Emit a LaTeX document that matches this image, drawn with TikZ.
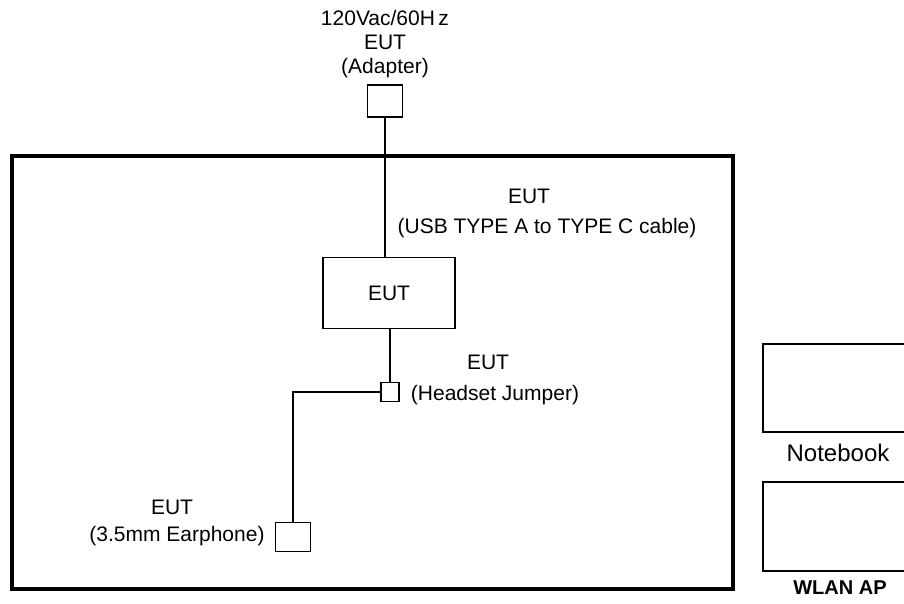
\documentclass[tikz,border=0pt]{standalone}
\usepackage{fontspec}
\setmainfont{Liberation Sans}
\begin{document}
\begin{tikzpicture}[x=1pt, y=-1pt, font=\fontsize{21}{24}\selectfont,
    unit/.style={draw, line width=1.5pt, inner sep=0pt},
    wire/.style={line width=1.4pt}]
    \useasboundingbox (0, 0) rectangle (904, 603);
    \clip (0, 0) rectangle (904, 603);
    % test room
    \draw[line width=3.6pt] (12, 156) rectangle (733, 589);
    % units
    \node[unit, minimum width=35, minimum height=32] (adapter) at (385, 101) {};
    \node[unit, minimum width=132, minimum height=71] (eut) at (389, 293) {EUT};
    \node[unit, minimum width=18, minimum height=19] (jumper) at (390, 392) {};
    \node[unit, minimum width=35, minimum height=29] (earphone) at (293, 537) {};
    \node[unit, minimum width=152, minimum height=88, anchor=north west] (notebook) at (762, 343) {};
    \node[unit, minimum width=152, minimum height=89, anchor=north west] (ap) at (762, 481) {};
    % cables
    \draw[wire] (adapter.south) -- (adapter.south |- eut.north);
    \draw[wire] (jumper.north |- eut.south) -- (jumper.north);
    \draw[wire] (jumper.west) -| (earphone.north);
    % labels
    \node[align=center] (adaptertxt) at (385, 44) {120Vac/60H\,z\\EUT\\(Adapter)};
    \node[align=center] (cabletxt) at (547, 213) {EUT\hspace*{36pt}\\[6pt](USB TYPE A to TYPE C cable)};
    \node[align=center] (jumpertxt) at (495, 380) {EUT\hspace*{14pt}\\[7pt](Headset Jumper)};
    \node[align=center] (earphonetxt) at (177, 523) {EUT\hspace*{10pt}\\[3pt](3.5mm Earphone)};
    \node[font=\fontsize{24}{28}\selectfont] (notebooktxt) at (838, 453) {Notebook};
    \node[font=\fontsize{20}{24}\selectfont\bfseries] (aptxt) at (840, 588) {WLAN AP};
\end{tikzpicture}
\end{document}
